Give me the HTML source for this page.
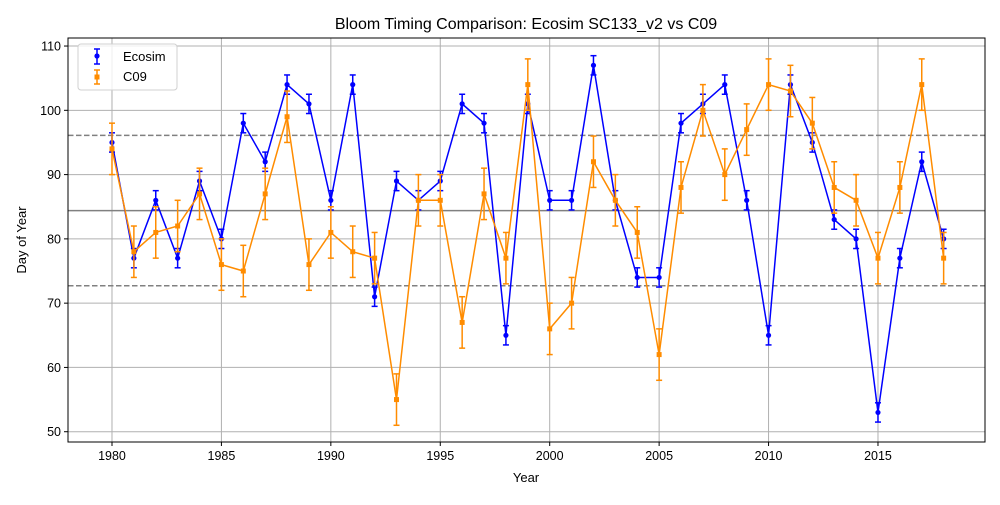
<!DOCTYPE html>
<html><head><meta charset="utf-8"><style>
body{margin:0;background:#fff;font-family:"Liberation Sans","DejaVu Sans",sans-serif;}
svg text{font-family:"Liberation Sans","DejaVu Sans",sans-serif;}
</style></head><body>
<svg id="chart" width="1000" height="500" xmlns="http://www.w3.org/2000/svg">
<rect width="1000" height="500" fill="#fff"/>
<g id="grid"></g><g id="refs"></g><g id="series"></g><g id="axes"></g>
</svg>
<script>
const years=[1980,1981,1982,1983,1984,1985,1986,1987,1988,1989,1990,1991,1992,1993,1994,1995,1996,1997,1998,1999,2000,2001,2002,2003,2004,2005,2006,2007,2008,2009,2010,2011,2012,2013,2014,2015,2016,2017,2018];
const ecosim=[95,77,86,77,89,80,98,92,104,101,86,104,71,89,86,89,101,98,65,101,86,86,107,86,74,74,98,101,104,86,65,104,95,83,80,53,77,92,80];
const ecosimErr=1.5;
const c09=[94,78,81,82,87,76,75,87,99,76,81,78,77,55,86,86,67,87,77,104,66,70,92,86,81,62,88,100,90,97,104,103,98,88,86,77,88,104,77];
const c09Err=4;
const refLines=[{v:84.4,dash:false},{v:96.1,dash:true},{v:72.7,dash:true}];
const xTicks=[1980,1985,1990,1995,2000,2005,2010,2015];
const yTicks=[50,60,70,80,90,100,110];
const L=68,R=985,T=38,B=442;
const xMin=1977.99,xMax=2019.89,yMin=48.4,yMax=111.25;
const sx=v=>L+(v-xMin)/(xMax-xMin)*(R-L);
const sy=v=>B-(v-yMin)/(yMax-yMin)*(B-T);
const NS="http://www.w3.org/2000/svg";
function mk(p,tag,at){const e=document.createElementNS(NS,tag);for(const k in at)e.setAttribute(k,at[k]);p.appendChild(e);return e;}
const grid=document.getElementById('grid'),refs=document.getElementById('refs'),ser=document.getElementById('series'),axes=document.getElementById('axes');
xTicks.forEach(t=>{const l=mk(grid,'line',{x1:sx(t),x2:sx(t),y1:T,y2:B,stroke:'#b0b0b0','stroke-width':1});

});
yTicks.forEach(t=>{const l=mk(grid,'line',{x1:L,x2:R,y1:sy(t),y2:sy(t),stroke:'#b0b0b0','stroke-width':1});

});
refLines.forEach(r=>{const at={x1:L,x2:R,y1:sy(r.v),y2:sy(r.v),stroke:'#808080','stroke-width':1.5};if(r.dash)at['stroke-dasharray']='5.5,2.5';const l=mk(refs,'line',at);

});
function drawSeries(vals,err,color,marker,name){
  const g=mk(ser,'g',{});
  
  
  vals.forEach((v,i)=>{const x=sx(years[i]);
    const e=mk(g,'line',{x1:x,x2:x,y1:sy(v-err),y2:sy(v+err),stroke:color,'stroke-width':1.5});
    
    
    [v-err,v+err].forEach(c=>{mk(g,'line',{x1:x-3,x2:x+3,y1:sy(c),y2:sy(c),stroke:color,'stroke-width':1.5});});
  });
  const pl=mk(g,'polyline',{points:vals.map((v,i)=>sx(years[i])+','+sy(v)).join(' '),fill:'none',stroke:color,'stroke-width':1.5});
  
  
  vals.forEach((v,i)=>{const x=sx(years[i]),y=sy(v);let m;
    if(marker==='o')m=mk(g,'circle',{cx:x,cy:y,r:2.6,fill:color});
    else m=mk(g,'rect',{x:x-2.5,y:y-2.5,width:5,height:5,fill:color});
    
    });
}
drawSeries(ecosim,ecosimErr,'#0000ff','o','ecosim');
drawSeries(c09,c09Err,'#ff8c00','s','c09');
const fr=mk(axes,'rect',{x:L,y:T,width:R-L,height:B-T,fill:'none',stroke:'#000','stroke-width':1});


xTicks.forEach(t=>{mk(axes,'line',{x1:sx(t),x2:sx(t),y1:B,y2:B+4,stroke:'#000'});
const tx=mk(axes,'text',{x:sx(t),y:B+18,'text-anchor':'middle','font-size':12.5,fill:'#000'});tx.textContent=t;

});
yTicks.forEach(t=>{mk(axes,'line',{x1:L-4,x2:L,y1:sy(t),y2:sy(t),stroke:'#000'});
const tx=mk(axes,'text',{x:L-7,y:sy(t)+4.5,'text-anchor':'end','font-size':12.5,fill:'#000'});tx.textContent=t;

});
</script>
<svg style="position:absolute;left:0;top:0" width="1000" height="500" xmlns="http://www.w3.org/2000/svg">
<text x="526" y="29" text-anchor="middle" font-size="16" fill="#000">Bloom Timing Comparison: Ecosim SC133_v2 vs C09</text>
<text x="526" y="482" text-anchor="middle" font-size="13" fill="#000">Year</text>
<text transform="translate(26,240) rotate(-90)" text-anchor="middle" font-size="13" fill="#000">Day of Year</text>
<g>
<rect x="78" y="44" width="99" height="46" rx="3" fill="#fff" fill-opacity="0.8" stroke="#d0d0d0"/>
<g>
<line x1="97" y1="49" x2="97" y2="64" stroke="#0000ff" stroke-width="1.5"/><line x1="94" y1="49" x2="100" y2="49" stroke="#0000ff" stroke-width="1.5"/><line x1="94" y1="64" x2="100" y2="64" stroke="#0000ff" stroke-width="1.5"/><circle cx="97" cy="56" r="2.6" fill="#0000ff"/>
<text x="123" y="61" font-size="13">Ecosim</text></g>
<g>
<line x1="97" y1="70" x2="97" y2="84" stroke="#ff8c00" stroke-width="1.5"/><line x1="94" y1="70" x2="100" y2="70" stroke="#ff8c00" stroke-width="1.5"/><line x1="94" y1="84" x2="100" y2="84" stroke="#ff8c00" stroke-width="1.5"/><rect x="94.5" y="74.5" width="5" height="5" fill="#ff8c00"/>
<text x="123" y="81" font-size="13">C09</text></g>
</g>
</svg>
</body></html>
